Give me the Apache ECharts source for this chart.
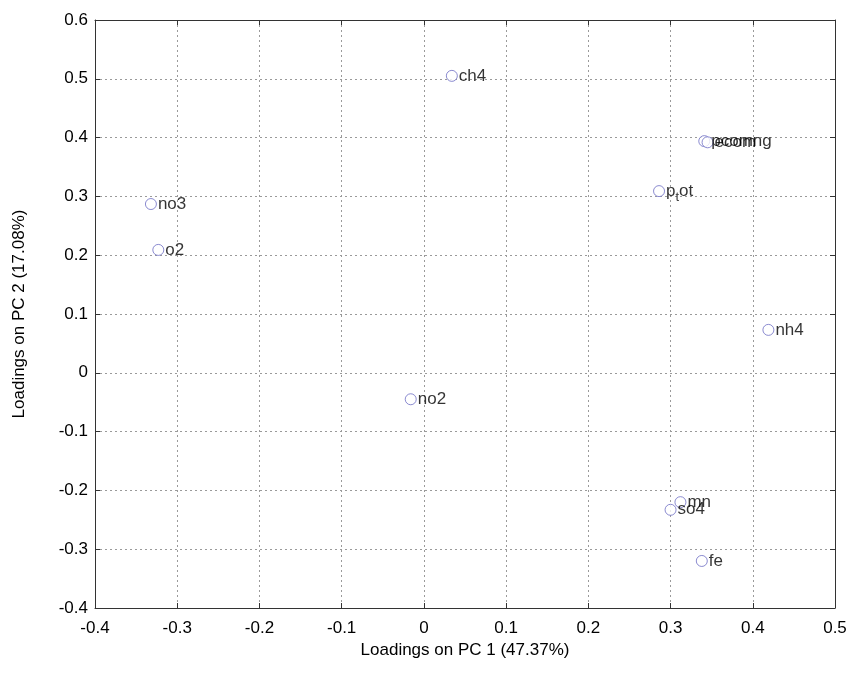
<!DOCTYPE html>
<html>
<head>
<meta charset="utf-8">
<script src="https://cdn.jsdelivr.net/npm/echarts@6/dist/echarts.min.js"></script>
<style>
  html, body { margin: 0; padding: 0; background: #fff; }
  #chart { width: 861px; height: 673px; }
</style>
</head>
<body>
<div id="chart"></div>
<script>
// PCA loadings of the measured variables
const variables = ['ch4', 'pcomng', 'ecom', 'p_tot', 'no3', 'o2', 'nh4', 'no2', 'mn', 'so4', 'fe'];
const pc1 = [0.034, 0.341, 0.345, 0.286, -0.332, -0.323, 0.419, -0.016, 0.312, 0.300, 0.338];
const pc2 = [0.505, 0.394, 0.392, 0.309, 0.287, 0.209, 0.073, -0.045, -0.220, -0.233, -0.320];

const xTicks = [-0.4, -0.3, -0.2, -0.1, 0, 0.1, 0.2, 0.3, 0.4, 0.5];
const yTicks = [-0.4, -0.3, -0.2, -0.1, 0, 0.1, 0.2, 0.3, 0.4, 0.5, 0.6];

const FONT = 'Arial, "Liberation Sans", sans-serif';

function fmt(v) {
  const r = Math.round(v * 10) / 10;
  return r === 0 ? '0' : String(r);
}

function labelFor(name) {
  if (name === 'p_tot') return '{n|p}{s|t}{n|ot}';
  return '{n|' + name + '}';
}

const points = variables.map((name, i) => ({
  name: name,
  value: [pc1[i], pc2[i]],
  label: { formatter: labelFor(name) }
}));

const chart = echarts.init(document.getElementById('chart'), null, { renderer: 'canvas' });

function axis(extra) {
  return Object.assign({
    type: 'value',
    interval: 0.1,
    axisLine: { show: true, onZero: false, lineStyle: { color: '#333', width: 1 } },
    axisTick: { show: true, inside: true, length: 5, lineStyle: { color: '#333' } },
    splitLine: { show: true, lineStyle: { color: '#9a9a9a', type: [2, 3], width: 1 } },
    axisLabel: { color: '#000', fontFamily: FONT, fontSize: 17, formatter: fmt },
    nameTextStyle: { color: '#000', fontFamily: FONT, fontSize: 17 }
  }, extra);
}

chart.setOption({
  backgroundColor: '#fff',
  animation: false,
  grid: { left: 95, right: 26, top: 20, bottom: 65 },
  xAxis: [
    axis({
      min: -0.4, max: 0.5,
      name: 'Loadings on PC 1 (47.37%)',
      nameLocation: 'middle', nameGap: 28,
      axisLabel: { color: '#000', fontFamily: FONT, fontSize: 17, formatter: fmt, margin: 12,
        customValues: xTicks }
    }),
    axis({
      min: -0.4, max: 0.5, position: 'top',
      axisLabel: { show: false }, splitLine: { show: false }
    })
  ],
  yAxis: [
    axis({
      min: -0.4, max: 0.6,
      name: 'Loadings on PC 2 (17.08%)',
      nameLocation: 'middle', nameGap: 67, nameRotate: 90,
      axisLabel: { color: '#000', fontFamily: FONT, fontSize: 17, formatter: fmt, margin: 7,
        customValues: yTicks }
    }),
    axis({
      min: -0.4, max: 0.6, position: 'right',
      axisLabel: { show: false }, splitLine: { show: false }
    })
  ],
  series: [{
    type: 'scatter',
    symbol: 'circle',
    symbolSize: 11,
    itemStyle: { color: '#fff', borderColor: '#6e6ec4', borderWidth: 1 },
    label: {
      show: true,
      position: 'right',
      distance: 1,
      rich: {
        n: { fontFamily: FONT, fontSize: 17, color: '#000' },
        s: { fontFamily: FONT, fontSize: 13, color: '#000', padding: [13, 0, 0, 0] }
      }
    },
    labelLayout: { hideOverlap: false },
    data: points
  }]
});
</script>
</body>
</html>
